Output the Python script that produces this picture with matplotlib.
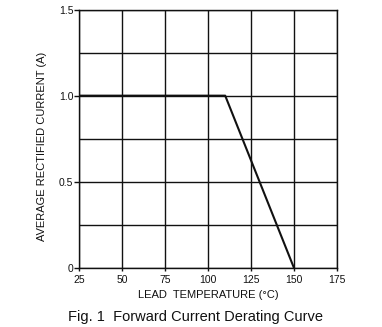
import matplotlib.pyplot as plt
from matplotlib.ticker import MultipleLocator

plt.rcParams['font.family'] = ['Liberation Sans', 'DejaVu Sans']

# derating curve
lead_temp = [25, 110, 150]
avg_current = [1.0, 1.0, 0.0]

x_ticks = [25, 50, 75, 100, 125, 150, 175]
y_ticks = [0, 0.5, 1.0, 1.5]
y_tick_labels = ['0', '0.5', '1.0', '1.5']

fig = plt.figure(figsize=(3.82, 3.27), dpi=100)
ax = fig.add_axes([79 / 382, 1 - 268 / 327, 258 / 382, 258.5 / 327])

ax.plot(lead_temp, avg_current, color='#111111', lw=1.5, zorder=3)

ax.set_xlim(25, 175)
ax.set_ylim(0, 1.5)
ax.set_xticks(x_ticks)
ax.set_yticks(y_ticks)
ax.set_yticklabels(y_tick_labels)
ax.yaxis.set_minor_locator(MultipleLocator(0.25))

ax.grid(True, which='both', color='#111111', lw=1.0)
for s in ax.spines.values():
    s.set_color('#111111')
    s.set_linewidth(1.0)

ax.tick_params(axis='x', length=2, width=1, pad=3, labelsize=7.5, colors='#111111')
ax.tick_params(axis='y', which='major', length=3.5, width=1, pad=0.5, labelsize=7.5, colors='#111111')
ax.tick_params(axis='y', which='minor', length=0)

ax.set_xlabel('LEAD  TEMPERATURE (°C)', fontsize=8, color='#111111')
ax.set_ylabel('AVERAGE RECTIFIED CURRENT (A)', fontsize=8, color='#111111')
ax.xaxis.set_label_coords(0.5, -0.085)
ax.yaxis.set_label_coords(-0.125, 0.472)

fig.text(196 / 382, 1 - 317 / 327, 'Fig. 1  Forward Current Derating Curve',
         ha='center', va='center', fontsize=10.5, color='#111111')

fig.savefig('out.png', dpi=100)
